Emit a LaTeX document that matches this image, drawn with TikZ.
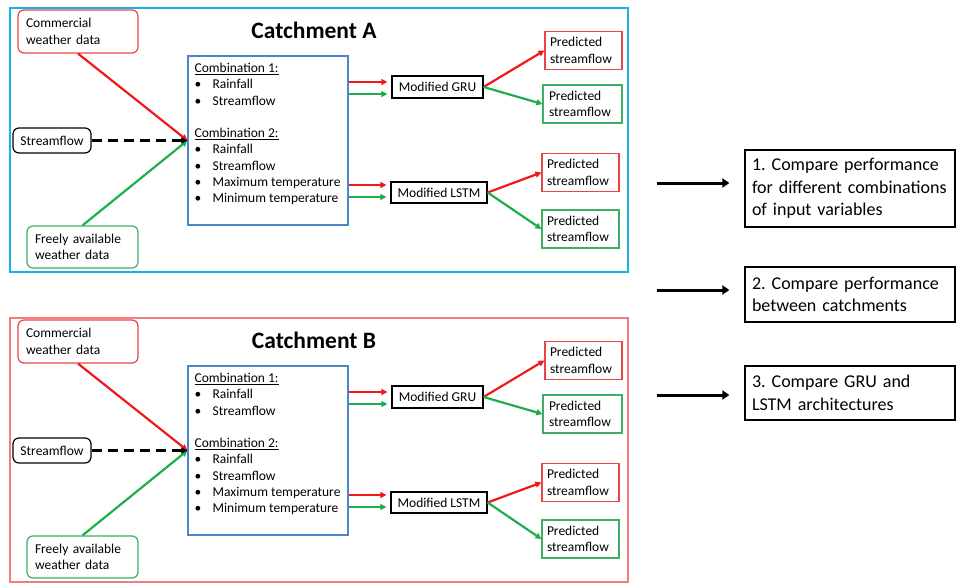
\documentclass[tikz,border=0pt]{standalone}
\usepackage{fontspec}
\setmainfont{Carlito}
\usetikzlibrary{arrows.meta}
\frenchspacing
\hyphenpenalty=10000

\definecolor{frameA}{HTML}{1CB0E8}
\definecolor{frameB}{HTML}{F47C7C}
\definecolor{arrred}{HTML}{F01818}
\definecolor{arrgreen}{HTML}{1EAE4E}
\definecolor{boxred}{HTML}{E64646}
\definecolor{boxgreen}{HTML}{3DAE62}
\definecolor{combblue}{HTML}{4A86C8}

\tikzset{
  src/.style={draw, rounded corners=6pt, line width=1.2pt, align=left, inner xsep=8pt, font=\fontsize{13.5}{16.3}\selectfont},
  plain/.style={draw, line width=1.2pt, align=center, inner sep=0pt, font=\fontsize{13.5}{16.3}\selectfont},
  pred/.style={draw, line width=1.2pt, align=left, inner sep=0pt, minimum width=77pt, minimum height=38pt, text width=67pt, font=\fontsize{13.5}{16.3}\selectfont},
  redarr/.style={arrred, line width=2.2pt, -{Triangle[length=6pt,width=6pt]}},
  greenarr/.style={arrgreen, line width=2.2pt, -{Triangle[length=6pt,width=6pt]}},
  cmpbox/.style={draw, line width=1.2pt, align=left, inner xsep=7pt, inner ysep=0pt, minimum width=210pt, text width=196pt, font=\fontsize{18}{22.5}\selectfont},
  bigarr/.style={line width=3pt, -{Triangle[length=7pt,width=9pt]}, shorten >=15pt}
}
\newcommand{\blt}{\makebox[18pt][l]{\hspace{0pt}\textbullet}}

\begin{document}
\begin{tikzpicture}[x=1pt,y=-1pt]
\useasboundingbox (0,0) rectangle (956,583);

\foreach \c/\dy/\fr in {A/0/frameA,B/310/frameB}{
\begin{scope}[yshift=-\dy pt]
% catchment frame and title
\draw[\fr, line width=2.6pt] (10,8) rectangle (628,272);
\node[font=\fontsize{23.5}{27}\selectfont\bfseries] (title\c) at (314,30) {Catchment \c};

% data sources
\node[src, boxred, text=black, minimum width=120pt, minimum height=43pt, text width=104pt] (com\c) at (78,31.5) {Commercial\\weather data};
\node[src, black, minimum width=78pt, minimum height=25pt, inner xsep=5pt] (sf\c) at (52,140.5) {Streamflow};
\node[src, boxgreen, text=black, minimum width=111pt, minimum height=42pt, text width=95pt] (free\c) at (82.5,247) {Freely available\\weather data};

% combinations of inputs
\node[draw=combblue, line width=1.2pt, minimum width=160pt, minimum height=169pt, inner sep=0pt] (comb\c) at (268,140.5) {};
\node[anchor=north west, align=left, inner xsep=7pt, inner ysep=7.5pt, font=\fontsize{13.5}{16.3}\selectfont] (combtxt\c) at (comb\c.north west)
  {\underline{Combination 1:}\\ \blt Rainfall\\ \blt Streamflow\\[16.3pt]
   \underline{Combination 2:}\\ \blt Rainfall\\ \blt Streamflow\\ \blt Maximum temperature\\ \blt Minimum temperature};

\draw[redarr] (com\c.south) -- (comb\c.west);
\draw[greenarr] (free\c.north) -- (comb\c.west);
\draw[line width=2.2pt, dash pattern=on 10pt off 6pt, -{Triangle[length=6pt,width=6pt]}] (sf\c.east) -- (comb\c.west);

% models
\node[plain, minimum width=91pt, minimum height=22pt] (gru\c) at (437.5,87) {Modified GRU};
\node[plain, minimum width=96pt, minimum height=21pt] (lstm\c) at (439,192.5) {Modified LSTM};

\draw[redarr] ([yshift=5pt]comb\c.east |- gru\c.west) -- ([yshift=5pt,xshift=-4pt]gru\c.west);
\draw[greenarr] ([yshift=-7pt]comb\c.east |- gru\c.west) -- ([yshift=-7pt,xshift=-4pt]gru\c.west);
\draw[redarr] ([yshift=7.5pt]comb\c.east |- lstm\c.west) -- ([yshift=7.5pt,xshift=-4pt]lstm\c.west);
\draw[greenarr] ([yshift=-4.5pt]comb\c.east |- lstm\c.west) -- ([yshift=-4.5pt,xshift=-4pt]lstm\c.west);

% predictions
\node[pred, boxred] (pgr\c) at (583.5,50.5) {\color{black}Predicted\\streamflow};
\node[pred, boxgreen, minimum width=79pt] (pgg\c) at (582.5,104) {\color{black}Predicted\\streamflow};
\node[pred, boxred] (plr\c) at (580.5,172.5) {\color{black}Predicted\\streamflow};
\node[pred, boxgreen] (plg\c) at (580.5,229) {\color{black}Predicted\\streamflow};

\draw[redarr] (gru\c.east) -- (pgr\c.west);
\draw[greenarr] (gru\c.east) -- (pgg\c.west);
\draw[redarr] (lstm\c.east) -- (plr\c.west);
\draw[greenarr] (lstm\c.east) -- (plg\c.west);
\end{scope}
}

% comparisons
\node[cmpbox, minimum height=77pt] (cmp1) at (850,188.5) {1. Compare performance\\for different combinations\\of input variables};
\node[cmpbox, minimum height=55pt] (cmp2) at (850,294.5) {2. Compare performance\\between catchments};
\node[cmpbox, minimum height=54pt] (cmp3) at (850,393) {3. Compare GRU and\\LSTM architectures};

\coordinate (s1) at (657,183);
\coordinate (s2) at (657,290);
\coordinate (s3) at (657,395);
\draw[bigarr] (s1) -- (s1 -| cmp1.west);
\draw[bigarr] (s2) -- (s2 -| cmp2.west);
\draw[bigarr] (s3) -- (s3 -| cmp3.west);
\end{tikzpicture}
\end{document}
